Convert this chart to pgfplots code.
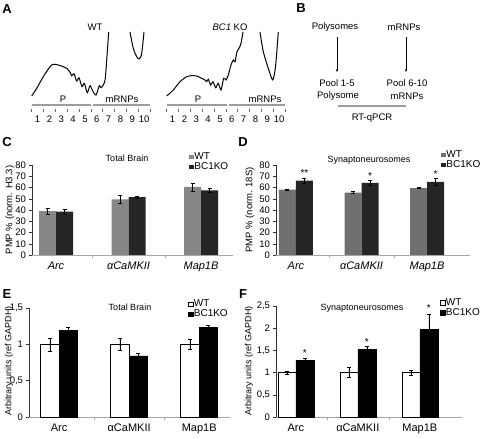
\documentclass[border=0pt]{standalone}
\usepackage{fontspec}
\setmainfont{Liberation Sans}
\usepackage{pgfplots}
\pgfplotsset{compat=1.18}
\usetikzlibrary{arrows.meta}
\newcommand\fs[1]{\fontsize{#1}{#1}\selectfont}
\definecolor{wtc}{HTML}{878787}
\definecolor{wtd}{HTML}{707070}
\definecolor{ko}{HTML}{252525}
\definecolor{rul}{HTML}{9C9C9C}
\pgfplotsset{
  panel/.style={scale only axis, anchor=south west, clip=false,
    axis x line=bottom, axis y line=left, axis line style={-},
    x axis line style={gray!70}, y axis line style={black!80},
    ybar=0pt, ymin=0, enlarge x limits=false, enlarge y limits=false,
    xtick={0,1,2}, xtick style={draw=none},
    extra x ticks={0.5,1.5}, extra x tick labels={},
    extra x tick style={xtick style={draw=gray!70}},
    tick align=outside, major tick length=3pt,
    ytick style={black!80, line width=0.4pt},
    /pgf/number format/assume math mode=true,
    y tick label style={font=\fs{9.5}, xshift=0.5pt},
    x tick label style={font=\fs{11}},
    error bars/y dir=both, error bars/y explicit,
    error bars/error bar style={black, line width=0.5pt},
    error bars/error mark options={rotate=90, mark size=2pt, black, line width=0.5pt},
    legend style={draw=none, fill=none, font=\fs{10}, anchor=north west,
      nodes={inner sep=0.6pt}, row sep=0.4pt},
    legend cell align=left,
    legend image code/.code={\path[##1] (0pt,-2.3pt) rectangle (4.6pt,2.3pt);},
  }
}
\begin{document}
\begin{tikzpicture}[x=1pt,y=1pt]
\path[use as bounding box] (0pt,0pt) rectangle (480pt,439pt);
% ---------------- canvas: panels A and B, texts ----------------
\begin{axis}[at={(0pt,0pt)}, anchor=south west, scale only axis, width=480pt, height=439pt,
  xmin=0, xmax=480, ymin=0, ymax=439, y dir=reverse, hide axis, clip=false]
% WT profile
\addplot[black, line width=1pt, smooth, tension=0.45] coordinates {
 (31.7,96) (36.7,88.3) (43.3,76.7) (50,66.7) (53.3,64.3) (58.3,65) (63.3,66.7)
 (66.7,68.3) (70,72.3) (71.7,75.7) (74,73.7) (76.7,81) (79,77.7) (82,86.7)
 (84.3,83.3) (87.3,92.7) (90,85.7) (92.7,91) (96,95) (99.3,85.7) (101,87.7)
 (103.3,85) (105.3,78.3) (107.3,51.7) (108.7,32)};
\addplot[black, line width=1pt, smooth, tension=0.5] coordinates {
 (130,32) (133.3,48.3) (136.7,56.7) (139.3,58.8) (141.7,53.3) (144,32)};
% KO profile
\addplot[black, line width=1pt, smooth, tension=0.45] coordinates {
 (166.7,96) (173.3,90) (180,81.7) (186.7,76.7) (191.7,75.7) (196.7,76) (201.7,78.3)
 (205,80) (206.7,81.7) (208.3,79.3) (210.7,85) (213,81.7) (215.7,87.7) (218.3,83.3)
 (221,90) (223.7,78.3) (226,80) (228.3,75) (231,65) (233.3,60) (235,61.7) (237,51.7)
 (239,48.3) (241,43.3) (243,32)};
\addplot[black, line width=1pt, smooth, tension=0.5] coordinates {
 (260,32) (263.3,51.7) (268.3,68.3) (271.7,78.3) (273.3,79) (275.7,65) (278.3,32)};
% rulers
\draw[rul, line width=1.3pt] (31.7,105) -- (91,105);
\draw[rul, line width=1.3pt] (93.3,105) -- (150,105);
\draw[rul, line width=1.3pt] (166.7,105) -- (227,105);
\draw[rul, line width=1.3pt] (229,105) -- (285,105);
\pgfplotsinvokeforeach{0,...,10}{
  \draw[black!60, line width=0.5pt] (axis cs:{31.7+11.83*#1},109) -- (axis cs:{31.7+11.83*#1},111.5);
  \draw[black!60, line width=0.5pt] (axis cs:{166.7+11.83*#1},109) -- (axis cs:{166.7+11.83*#1},111.5);
}
\pgfplotsinvokeforeach{1,...,10}{
  \node[font=\fs{9.5}] at (axis cs:{31.7+11.83*(#1-0.5)},119) {#1};
  \node[font=\fs{9.5}] at (axis cs:{166.7+11.83*(#1-0.5)},119) {#1};
}
\node[font=\fs{9.5}] at (63,99.5) {P};
\node[font=\fs{9.5}] at (122,99.5) {mRNPs};
\node[font=\fs{9.5}] at (198,99.5) {P};
\node[font=\fs{9.5}] at (265,99.5) {mRNPs};
\node[font=\fs{9.5}] at (95,27) {WT};
\node[font=\fs{9.5}] at (230,27) {\textit{BC1} KO};
% panel B
\node[font=\fs{9.5}] at (335,27) {Polysomes};
\node[font=\fs{9.5}] at (404,27) {mRNPs};
\draw[-{Stealth[length=3pt,width=2.4pt]}, line width=0.45pt] (337,37) -- (337,72);
\draw[-{Stealth[length=3pt,width=2.4pt]}, line width=0.45pt] (406,37) -- (406,72);
\node[font=\fs{9.5}] at (337,83.5) {Pool 1-5};
\node[font=\fs{9.5}] at (338,96) {Polysome};
\node[font=\fs{9.5}] at (407,83.5) {Pool 6-10};
\node[font=\fs{9.5}] at (407,96) {mRNPs};
\draw[rul, line width=1.2pt] (338,106) -- (406,106);
\node[font=\fs{9.5}] at (372,118) {RT-qPCR};
% panel letters
\node[font=\fs{13}\bfseries] at (7,9) {A};
\node[font=\fs{13}\bfseries] at (301,8) {B};
\node[font=\fs{13}\bfseries] at (7,142) {C};
\node[font=\fs{13}\bfseries] at (243,142) {D};
\node[font=\fs{13}\bfseries] at (7,294) {E};
\node[font=\fs{13}\bfseries] at (243,294) {F};
% axis titles
\node[rotate=90, font=\fs{9.5}] at (10,210) {PMP \% (norm. H3.3)};
\node[rotate=90, font=\fs{9.5}] at (250,210) {PMP \% (norm. 18S)};
\node[rotate=90, font=\fs{9}] at (9,361) {Arbitrary units (ref GAPDH)};
\node[rotate=90, font=\fs{9}] at (249,361) {Arbitrary units (ref GAPDH)};
\node[font=\fs{9}] at (127,158) {Total Brain};
\node[font=\fs{9}] at (369,160) {Synaptoneurosomes};
\node[font=\fs{9}] at (130,307) {Total Brain};
\node[font=\fs{9}] at (362,308) {Synaptoneurosomes};
\end{axis}
% ---------------- C ----------------
\begin{axis}[panel, at={(32pt,184pt)}, width=201pt, height=90pt,
  xmin=-0.331, xmax=2.441, ymax=80, ytick={0,10,...,80}, bar width=17pt,
  xticklabels={Arc,αCaMKII,Map1B}, x tick label style={font=\fs{11}\itshape},
  legend style={at={(axis description cs:0.766,1.167)}}]
\addplot[fill=wtc, draw=none] coordinates {(0,39) +- (0,2.5) (1,49.5) +- (0,3.5) (2,60.5) +- (0,3.5)};
\addplot[fill=ko, draw=none] coordinates {(0,38.5) +- (0,2) (1,51.5) +- (0,1) (2,57.5) +- (0,2)};
\legend{WT,BC1KO}
\end{axis}
% ---------------- D ----------------
\begin{axis}[panel, at={(276pt,184pt)}, width=194pt, height=90pt,
  xmin=-0.305, xmax=2.656, ymax=80, ytick={0,10,...,80}, bar width=17pt,
  xticklabels={Arc,αCaMKII,Map1B}, x tick label style={font=\fs{11}\itshape},
  legend style={at={(axis description cs:0.835,1.19)}}]
\addplot[fill=wtd, draw=none] coordinates {(0,58) +- (0,0.5) (1,55.5) +- (0,1) (2,59.5) +- (0,0.5)};
\addplot[fill=ko, draw=none] coordinates {(0,66) +- (0,2) (1,64) +- (0,2) (2,65) +- (0,3)};
\legend{WT,BC1KO}
\node[font=\fs{10}] at (axis cs:0,72.5) [xshift=8.5pt] {**};
\node[font=\fs{10}] at (axis cs:1,70.5) [xshift=8.5pt] {*};
\node[font=\fs{10}] at (axis cs:2,72) [xshift=8.5pt] {*};
\end{axis}
% ---------------- E ----------------
\begin{axis}[panel, at={(29pt,22pt)}, width=201pt, height=109pt,
  xmin=-0.43, xmax=2.44, ymax=1.5, ytick={0,0.5,1,1.5}, yticklabels={0,{0,5},1,{1,5}},
  bar width=18.5pt, xticklabels={Arc,αCaMKII,Map1B},
  legend style={at={(axis description cs:0.776,1.10)}}]
\addplot[fill=white, draw=black, line width=0.5pt] coordinates {(0,1) +- (0,0.09) (1,1) +- (0,0.08) (2,1) +- (0,0.07)};
\addplot[fill=black, draw=black, line width=0.5pt] coordinates {(0,1.19) +- (0,0.05) (1,0.84) +- (0,0.04) (2,1.23) +- (0,0.03)};
\legend{WT,BC1KO}
\end{axis}
% ---------------- F ----------------
\begin{axis}[panel, at={(276pt,22pt)}, width=186pt, height=111pt,
  xmin=-0.32, xmax=2.68, ymax=2.5, ytick={0,0.5,1,1.5,2,2.5},
  yticklabels={0,{0,5},1,{1,5},2,{2,5}},
  bar width=18pt, xticklabels={Arc,αCaMKII,Map1B},
  legend style={at={(axis description cs:0.866,1.09)}}]
\addplot[fill=white, draw=black, line width=0.5pt] coordinates {(0,1) +- (0,0.04) (1,1) +- (0,0.11) (2,1) +- (0,0.05)};
\addplot[fill=black, draw=black, line width=0.5pt] coordinates {(0,1.28) +- (0,0.05) (1,1.52) +- (0,0.07) (2,1.98) +- (0,0.33)};
\legend{WT,BC1KO}
\node[font=\fs{10}] at (axis cs:0,1.43) [xshift=9pt] {*};
\node[font=\fs{10}] at (axis cs:1,1.68) [xshift=9pt] {*};
\node[font=\fs{10}] at (axis cs:2,2.45) [xshift=9pt] {*};
\end{axis}
\end{tikzpicture}
\end{document}
